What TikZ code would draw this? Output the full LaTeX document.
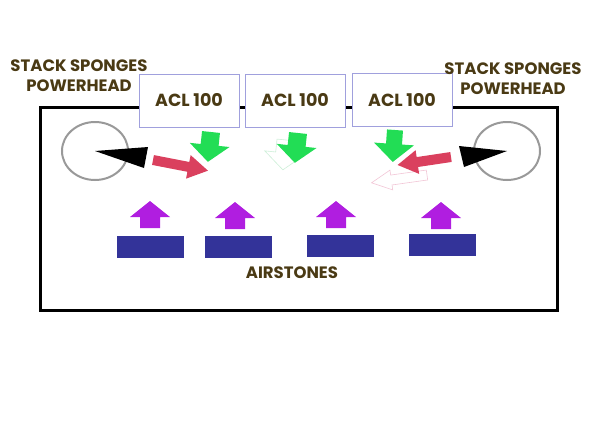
\documentclass[tikz,border=0pt]{standalone}
\usepackage{fontspec}
\setmainfont{Poppins}
\definecolor{txt}{HTML}{4A3A14}
\definecolor{boxline}{HTML}{A0A0DD}
\definecolor{grn}{HTML}{22DD55}
\definecolor{prp}{HTML}{B01EE0}
\definecolor{stone}{HTML}{333399}
\definecolor{redar}{HTML}{DA405E}
\definecolor{ghost}{HTML}{F2C6D6}
\definecolor{ghostg}{HTML}{CDEFD8}
\definecolor{circ}{HTML}{999999}
\tikzset{
  lbl/.style={font=\bfseries\fontsize{16.5}{20}\selectfont, text=txt, align=center, inner sep=0pt},
  aclbox/.style={draw=boxline, line width=0.8pt, fill=white, minimum width=100pt, minimum height=53pt, font=\bfseries\fontsize{17.5}{20}\selectfont, text=txt},
  stonebox/.style={fill=stone, draw=none, minimum width=67pt, minimum height=22pt, inner sep=0pt},
  grnarrow/.style={fill=grn, draw=none},
  prparrow/.style={fill=prp, draw=none},
  redarrow/.style={fill=redar, draw=none},
}
\begin{document}
\begin{tikzpicture}[x=1pt,y=-1pt]
\useasboundingbox (0,0) rectangle (594,432);
% tank
\node[draw=black, line width=3pt, minimum width=517pt, minimum height=203pt, inner sep=0pt] (tank) at (298.5,208.5) {};
% ACL boxes
\node[aclbox] (acl1) at (189,100.5) {ACL 100};
\node[aclbox] (acl2) at (295,100.5) {ACL 100};
\node[aclbox] (acl3) at (402,100) {ACL 100};
% labels
\node[lbl] (lblL) at (79,76) {STACK SPONGES\\POWERHEAD};
\node[lbl] (lblR) at (513,79) {STACK SPONGES\\POWERHEAD};
% pumps
\draw[circ, line width=2pt] (95,151) ellipse [x radius=33, y radius=29];
\coordinate (pumpL) at (95,151);
\draw[circ, line width=2pt] (507,151) ellipse [x radius=33, y radius=29];
\coordinate (pumpR) at (507,151);
\fill[black] (pumpL) -- (148,147) -- (144,168) -- cycle;
\fill[black] (pumpR) -- (459,146) -- (464,167) -- cycle;
% red arrows
\begin{scope}[shift={(153,160)}, rotate=-11]
  \fill[redarrow] (0,-5) -- (36,-5) -- (36,-12) -- (56,0) -- (36,12) -- (36,5) -- (0,5) -- cycle;
\end{scope}
\begin{scope}[shift={(427,175)}, rotate=188]
  \draw[ghost, line width=0.6pt, fill=white] (0,-5) -- (36,-5) -- (36,-10) -- (56,0) -- (36,10) -- (36,5) -- (0,5) -- cycle;
\end{scope}
\begin{scope}[shift={(451,157)}, rotate=188.5]
  \fill[redarrow] (0,-5) -- (34,-5) -- (34,-12) -- (54,0) -- (34,12) -- (34,5) -- (0,5) -- cycle;
\end{scope}
% green arrows
\begin{scope}[shift={(286,140)}, rotate=-6]
  \draw[ghostg, line width=0.6pt, fill=white] (-9,0) -- (9,0) -- (9,13) -- (20,13) -- (0,30) -- (-20,13) -- (-9,13) -- cycle;
\end{scope}
\begin{scope}[shift={(211,132)}, rotate=-6]
  \fill[grnarrow] (-9,0) -- (9,0) -- (9,13) -- (20,13) -- (0,30) -- (-20,13) -- (-9,13) -- cycle;
\end{scope}
\begin{scope}[shift={(298,133)}, rotate=-6]
  \fill[grnarrow] (-9,0) -- (9,0) -- (9,13) -- (20,13) -- (0,30) -- (-20,13) -- (-9,13) -- cycle;
\end{scope}
\begin{scope}[shift={(395,130)}, rotate=-4]
  \fill[grnarrow] (-8,0) -- (8,0) -- (8,14) -- (20,14) -- (0,32) -- (-20,14) -- (-8,14) -- cycle;
\end{scope}
% purple arrows
\foreach \x/\y in {150/201, 235/202, 336/201, 441/202}{
  \fill[prparrow] (\x,\y) -- ++(20,16) -- ++(-10,0) -- ++(0,11) -- ++(-20,0) -- ++(0,-11) -- ++(-10,0) -- cycle;
}
% airstones
\node[stonebox] (s1) at (150,247) {};
\node[stonebox] (s2) at (238.5,247) {};
\node[stonebox] (s3) at (340.5,246) {};
\node[stonebox] (s4) at (442.5,245) {};
\node[lbl] (air) at (292,273) {AIRSTONES};
\end{tikzpicture}
\end{document}
